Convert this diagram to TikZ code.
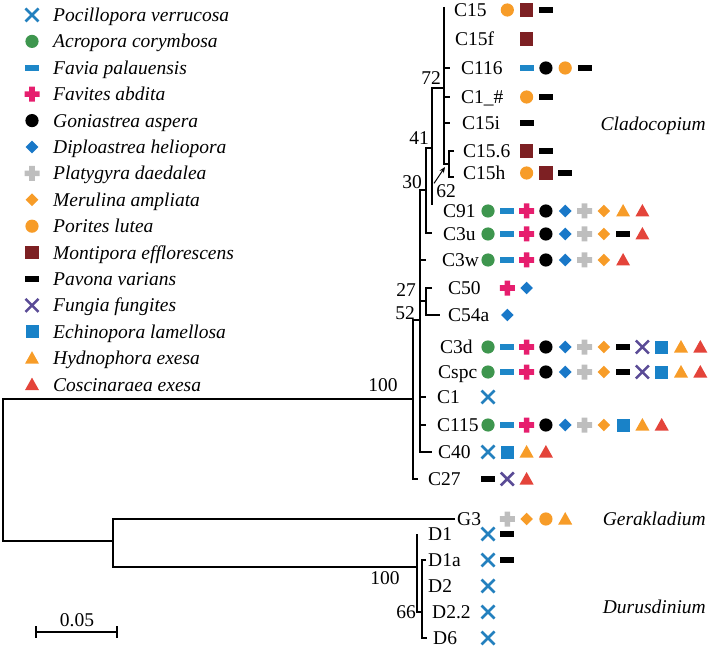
\documentclass[tikz,border=0pt]{standalone}
\usepackage{fontspec}
\setmainfont{Liberation Serif}
\usetikzlibrary{arrows.meta}
\definecolor{cpv}{RGB}{35,128,190}
\definecolor{cac}{RGB}{62,150,78}
\definecolor{cfp}{RGB}{30,135,200}
\definecolor{cpink}{RGB}{230,30,110}
\definecolor{cdh}{RGB}{25,120,200}
\definecolor{cgray}{RGB}{190,190,190}
\definecolor{corange}{RGB}{247,156,40}
\definecolor{cdred}{RGB}{125,32,35}
\definecolor{cpurple}{RGB}{90,75,150}
\definecolor{cel}{RGB}{25,130,200}
\definecolor{cred}{RGB}{228,68,58}
\tikzset{
  pv/.pic={\draw[cpv,line width=2.6pt] (-6.5pt,-6.5pt)--(6.5pt,6.5pt) (-6.5pt,6.5pt)--(6.5pt,-6.5pt);},
  ff/.pic={\draw[cpurple,line width=2.6pt] (-6.5pt,-6.5pt)--(6.5pt,6.5pt) (-6.5pt,6.5pt)--(6.5pt,-6.5pt);},
  ac/.pic={\fill[cac] (0pt,0pt) circle (6.6pt);},
  ga/.pic={\fill[black] (0pt,0pt) circle (6.6pt);},
  pl/.pic={\fill[corange] (0pt,0pt) circle (6.6pt);},
  fp/.pic={\fill[cfp] (-7pt,-2.8pt) rectangle (7pt,2.8pt);},
  pva/.pic={\fill[black] (-7pt,-3pt) rectangle (7pt,3pt);},
  fa/.pic={\fill[cpink] (-7.5pt,-2.8pt) rectangle (7.5pt,2.8pt) (-2.8pt,-7.5pt) rectangle (2.8pt,7.5pt);},
  pd/.pic={\fill[cgray] (-7.5pt,-2.8pt) rectangle (7.5pt,2.8pt) (-2.8pt,-7.5pt) rectangle (2.8pt,7.5pt);},
  dh/.pic={\fill[cdh] (-6.3pt,0pt)--(0pt,6.3pt)--(6.3pt,0pt)--(0pt,-6.3pt)--cycle;},
  ma/.pic={\fill[corange] (-6.3pt,0pt)--(0pt,6.3pt)--(6.3pt,0pt)--(0pt,-6.3pt)--cycle;},
  me/.pic={\fill[cdred] (-6.8pt,-6.8pt) rectangle (6.8pt,6.8pt);},
  el/.pic={\fill[cel] (-6.5pt,-6.5pt) rectangle (6.5pt,6.5pt);},
  he/.pic={\fill[corange] (-7pt,-5.5pt)--(7pt,-5.5pt)--(0pt,7pt)--cycle;},
  ce/.pic={\fill[cred] (-7pt,-5.5pt)--(7pt,-5.5pt)--(0pt,7pt)--cycle;},
  br/.style={line width=2.4pt},
  lab/.style={inner sep=0pt, anchor=west, text height=13pt, text depth=0pt, font=\fontsize{19.5}{22}\selectfont},
  leg/.style={inner sep=0pt, anchor=west, text height=13pt, text depth=0pt, font=\fontsize{19.5}{22}\selectfont\itshape},
  bs/.style={inner sep=0pt, text height=13pt, text depth=0pt, font=\fontsize{19.5}{22}\selectfont},
  clade/.style={inner sep=0pt, anchor=east, text height=13pt, text depth=0pt, font=\fontsize{19.5}{22}\selectfont\itshape}
}
\newcommand\markrow[3]{%
  \foreach \m [count=\i from #2] in {#3}{%
    \edef\mytmp{\noexpand\pic at ({488+19.3*\i},#1) {\m};}\mytmp}}
\begin{document}
\begin{tikzpicture}[x=1pt,y=-1pt]
\useasboundingbox (0,0) rectangle (709,652);
% legend
\foreach \k/\t [count=\j from 0] in {pv/Pocillopora verrucosa,ac/Acropora corymbosa,fp/Favia palauensis,fa/Favites abdita,ga/Goniastrea aspera,dh/Diploastrea heliopora,pd/Platygyra daedalea,ma/Merulina ampliata,pl/Porites lutea,me/Montipora efflorescens,pva/Pavona varians,ff/Fungia fungites,el/Echinopora lamellosa,he/Hydnophora exesa,ce/Coscinaraea exesa}{%
  \edef\mytmp{\noexpand\pic at (32,{15+26.4*\j}) {\k};}\mytmp
  \node[leg] (leg\j) at (53,{15+26.4*\j}) {\t};
}
% tree branches
\draw[br] (444,7) -- (444,164) -- (449,164);
\draw[br] (454,151) -- (449,151) -- (449,177) -- (454,177);
\draw[br] (444,68) -- (450,68) (444,97) -- (450,97) (444,123) -- (450,123);
\draw[br] (444,88) -- (432,88) -- (432,205);
\draw[br] (432,148) -- (426,148) -- (426,233) -- (432,233);
\draw[br] (426,190) -- (420,190) -- (420,452) -- (432,452);
\draw[br] (420,260) -- (426,260) (420,397) -- (426,397) (420,425) -- (426,425);
\draw[br] (420,301) -- (426,301);
\draw[br] (432,288) -- (426,288) -- (426,315) -- (440,315);
\draw[br] (420,320) -- (413,320) -- (413,479) -- (418,479);
\draw[br] (413,399) -- (3,399) -- (3,541) -- (113,541);
\draw[br] (455,519) -- (113,519) -- (113,567) -- (417,567);
\draw[br] (417,534) -- (417,612) -- (422,612);
\draw[br] (426,560) -- (422,560) -- (422,638) -- (427,638);
% tip labels
\node[lab] (tC15) at (454,10) {C15};
\node[lab] (tC15f) at (455,39) {C15f};
\node[lab] (tC116) at (461,68) {C116};
\node[lab] (tC1h) at (461,97) {C1\_\#};
\node[lab] (tC15i) at (462,123) {C15i};
\node[lab] (tC156) at (463,151) {C15.6};
\node[lab] (tC15h) at (463,173) {C15h};
\node[lab] (tC91) at (443,211) {C91};
\node[lab] (tC3u) at (443,234) {C3u};
\node[lab] (tC3w) at (442,260) {C3w};
\node[lab] (tC50) at (448,288) {C50};
\node[lab] (tC54a) at (448,315) {C54a};
\node[lab] (tC3d) at (440,347) {C3d};
\node[lab] (tCspc) at (438,372) {Cspc};
\node[lab] (tC1) at (437,397) {C1};
\node[lab] (tC115) at (437,425) {C115};
\node[lab] (tC40) at (438,452) {C40};
\node[lab] (tC27) at (428,479) {C27};
\node[lab] (tG3) at (457,519) {G3};
\node[lab] (tD1) at (428,534) {D1};
\node[lab] (tD1a) at (428,560) {D1a};
\node[lab] (tD2) at (428,586) {D2};
\node[lab] (tD22) at (432,612) {D2.2};
\node[lab] (tD6) at (433,638) {D6};
% markers
\markrow{10}{1}{pl,me,pva}
\markrow{39}{2}{me}
\markrow{68}{2}{fp,ga,pl,pva}
\markrow{97}{2}{pl,pva}
\markrow{123}{2}{pva}
\markrow{151}{2}{me,pva}
\markrow{173}{2}{pl,me,pva}
\markrow{211}{0}{ac,fp,fa,ga,dh,pd,ma,he,ce}
\markrow{234}{0}{ac,fp,fa,ga,dh,pd,ma,pva,ce}
\markrow{260}{0}{ac,fp,fa,ga,dh,pd,ma,ce}
\markrow{288}{1}{fa,dh}
\markrow{315}{1}{dh}
\markrow{347}{0}{ac,fp,fa,ga,dh,pd,ma,pva,ff,el,he,ce}
\markrow{372}{0}{ac,fp,fa,ga,dh,pd,ma,pva,ff,el,he,ce}
\markrow{397}{0}{pv}
\markrow{425}{0}{ac,fp,fa,ga,dh,pd,ma,el,he,ce}
\markrow{452}{0}{pv,el,he,ce}
\markrow{479}{0}{pva,ff,ce}
\markrow{519}{1}{pd,ma,pl,he}
\markrow{534}{0}{pv,pva}
\markrow{560}{0}{pv,pva}
\markrow{586}{0}{pv}
\markrow{612}{0}{pv}
\markrow{638}{0}{pv}
% bootstrap values
\node[bs] (b72) at (431,78) {72};
\node[bs] (b41) at (419,138) {41};
\node[bs] (b30) at (412,182) {30};
\node[bs] (b62) at (446,191) {62};
\node[bs] (b27) at (406,290) {27};
\node[bs] (b52) at (405,313) {52};
\node[bs] (b100) at (383,385) {100};
\node[bs] (bD100) at (385,578) {100};
\node[bs] (b66) at (406,612) {66};
\coordinate (a62) at (445,167);
\draw[line width=1pt,-{Stealth[length=6pt,width=5pt]}] (b62.north west) ++(-2,-1) -- (a62);
% clade names
\node[clade] (cl1) at (706,124) {Cladocopium};
\node[clade] (cl2) at (706,519) {Gerakladium};
\node[clade] (cl3) at (706,607) {Durusdinium};
% scale bar
\node[bs] (sb) at (77,620) {0.05};
\coordinate (sbl) at (36,632);
\coordinate (sbr) at (117,632);
\draw[br] (sbl) -- (sbr);
\draw[br] (sbl) ++(0,-6) -- ++(0,12);
\draw[br] (sbr) ++(0,-6) -- ++(0,12);
\end{tikzpicture}
\end{document}
